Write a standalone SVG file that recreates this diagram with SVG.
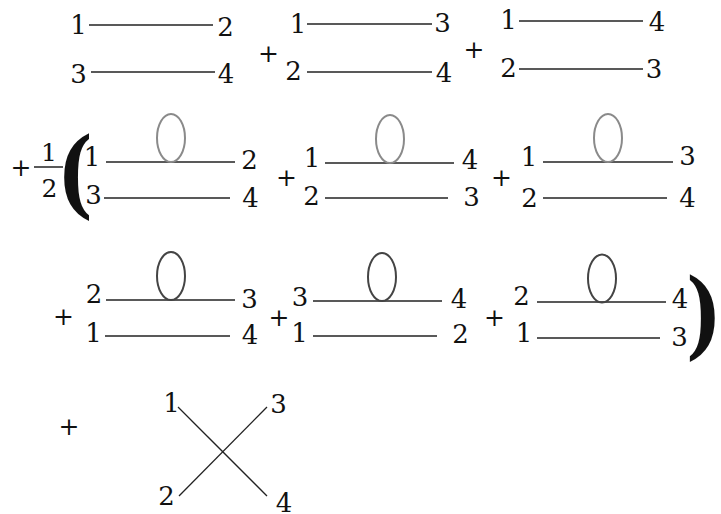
<svg xmlns="http://www.w3.org/2000/svg" width="721" height="514" viewBox="0 0 721 514">
<style>
text{font-family:"DejaVu Serif","Liberation Serif",serif;font-size:26px;fill:#111;text-anchor:middle}
text.f{font-size:25px}
text.p{font-size:25px}
text.br{font-weight:bold;font-size:95px}
line{stroke:#222;stroke-width:1.3}
.l1{fill:none;stroke:#8a8a8a;stroke-width:2}
.l2{fill:none;stroke:#444;stroke-width:2}
</style>
<rect width="721" height="514" fill="#fff"/>
<g id="connectors">
<line x1="89" y1="25" x2="213" y2="25"/>
<line x1="91" y1="72" x2="215" y2="72"/>
<line x1="307" y1="24" x2="432" y2="24"/>
<line x1="307" y1="72" x2="432" y2="72"/>
<line x1="519" y1="21" x2="643" y2="21"/>
<line x1="519" y1="69" x2="643" y2="69"/>
<line x1="34" y1="167" x2="63" y2="167" style="stroke-width:1.5"/>
<line x1="106" y1="162" x2="235" y2="162"/>
<line x1="104" y1="198" x2="230" y2="198"/>
<line x1="325" y1="163" x2="454" y2="163"/>
<line x1="325" y1="198" x2="448" y2="198"/>
<line x1="543" y1="162" x2="673" y2="162"/>
<line x1="543" y1="198" x2="667" y2="198"/>
<line x1="106" y1="300" x2="235" y2="300"/>
<line x1="105" y1="336" x2="230" y2="336"/>
<line x1="313" y1="301" x2="442" y2="301"/>
<line x1="313" y1="336" x2="437" y2="336"/>
<line x1="537" y1="302" x2="666" y2="302"/>
<line x1="537" y1="338" x2="660" y2="338"/>
<line x1="178" y1="407" x2="267" y2="496"/>
<line x1="267" y1="407" x2="179" y2="496"/>
<ellipse class="l1" cx="171" cy="138" rx="14" ry="24"/>
<ellipse class="l1" cx="390" cy="139" rx="14" ry="24"/>
<ellipse class="l1" cx="608" cy="138" rx="14" ry="24"/>
<ellipse class="l2" cx="171" cy="276" rx="14" ry="24"/>
<ellipse class="l2" cx="382" cy="277" rx="14" ry="24"/>
<ellipse class="l2" cx="602" cy="278.5" rx="14" ry="24"/>
</g>
<g id="term1">
<text x="78.5" y="34">1</text><text x="225.5" y="36">2</text>
<text x="78.5" y="83">3</text><text x="226" y="83">4</text>
</g>
<g id="plus1"><text class="p" x="268.5" y="62">+</text></g>
<g id="term2">
<text x="298" y="33">1</text><text x="442.5" y="32">3</text>
<text x="293.5" y="80">2</text><text x="444" y="82">4</text>
</g>
<g id="plus2"><text class="p" x="474" y="58">+</text></g>
<g id="term3">
<text x="508.5" y="29">1</text><text x="657" y="31">4</text>
<text x="508.5" y="77">2</text><text x="654" y="78">3</text>
</g>
<g id="half">
<text class="p" x="21" y="176">+</text>
<text class="f" x="49" y="161">1</text>
<text class="f" x="49.5" y="197">2</text>
<text class="br" x="0" y="0" transform="translate(75 206) scale(0.8 1)">(</text>
</g>
<g id="term4">
<text x="92" y="166">1</text><text x="249.5" y="169">2</text>
<text x="93.5" y="204">3</text><text x="250.5" y="207">4</text>
</g>
<g id="plus4"><text class="p" x="286.5" y="186">+</text></g>
<g id="term5">
<text x="312" y="167">1</text><text x="470" y="169">4</text>
<text x="311.5" y="205">2</text><text x="471.5" y="206">3</text>
</g>
<g id="plus5"><text class="p" x="501.5" y="186">+</text></g>
<g id="term6">
<text x="529" y="166">1</text><text x="687.5" y="165">3</text>
<text x="529.5" y="207">2</text><text x="687.5" y="207">4</text>
</g>
<g id="plus6"><text class="p" x="63.5" y="325">+</text></g>
<g id="term7">
<text x="94" y="303">2</text><text x="249.5" y="308">3</text>
<text x="93.5" y="342">1</text><text x="250" y="344">4</text>
</g>
<g id="plus7"><text class="p" x="279" y="326">+</text></g>
<g id="term8">
<text x="300" y="306">3</text><text x="459" y="308">4</text>
<text x="299.5" y="342">1</text><text x="460.5" y="343">2</text>
</g>
<g id="plus8"><text class="p" x="494.5" y="326">+</text></g>
<g id="term9">
<text x="521.5" y="305">2</text><text x="680" y="308">4</text>
<text x="524" y="342">1</text><text x="679.5" y="346">3</text>
<text class="br" x="0" y="0" transform="translate(704 347) scale(0.8 1)">)</text>
</g>
<g id="plus9"><text class="p" x="69" y="435">+</text></g>
<g id="term10">
<text x="171.5" y="412">1</text><text x="278.5" y="413">3</text>
<text x="166.5" y="505">2</text><text x="284" y="512">4</text>
</g>
</svg>
